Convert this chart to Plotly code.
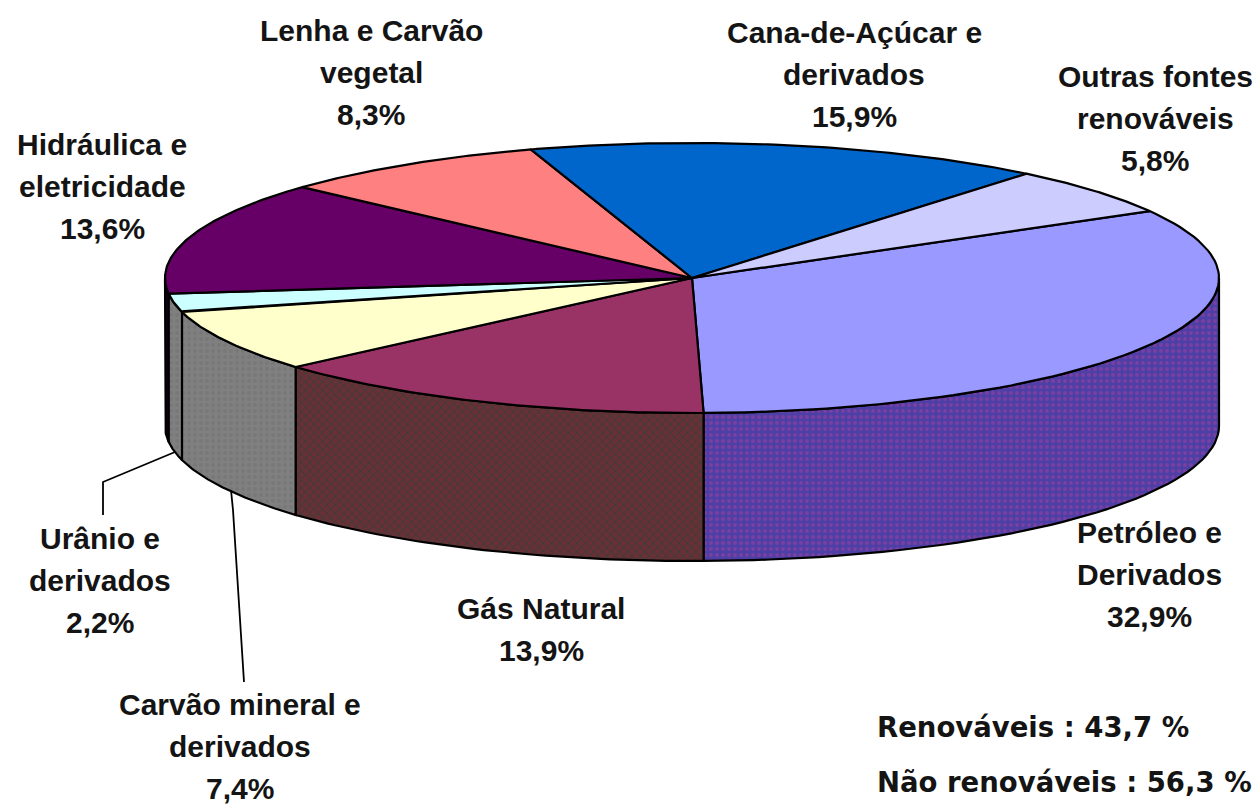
import numpy as np
import plotly.graph_objects as go

# --- data ---
fontes = [["Petróleo e", "Derivados"], ["Gás Natural"], ["Carvão mineral e", "derivados"],
          ["Urânio e", "derivados"], ["Hidráulica e", "eletricidade"], ["Lenha e Carvão", "vegetal"],
          ["Cana-de-Açúcar e", "derivados"], ["Outras fontes", "renováveis"]]
valores = [32.9, 13.9, 7.4, 2.2, 13.6, 8.3, 15.9, 5.8]
resumo = ["Renováveis : 43,7 %", "Não renováveis : 56,3 %"]

# --- styles / layout ---
cor_topo = ["#9999FF", "#993366", "#FFFFCC", "#CCFFFF", "#660066", "#FF8080", "#0066CC", "#CCCCFF"]
cor_lado = ["#4C3FA6", "#6B3035", "#808080", "#808080", "#1A001A", "#804040", "#003366", "#666680"]
cor_padrao = ["#7A3FA0", "#433A3A", "#787878", "#787878", "#1A001A", "#804040", "#003366", "#666680"]
forma = [".", "x", ".", ".", "", "", "", ""]
CX, CY, RX, RY, DEPTH = 692, 278, 527, 135, 148
START = 29.7
pos_rotulo = [(1149, 532), (541, 608), (240, 704), (100, 538), (102, 144), (371, 30), (854, 32), (1155, 76)]
PASSO = 42
W, H = 1257, 805
FONT = "Liberation Sans"
TXT = "#141414"

fig = go.Figure()


def ell(a):
    r = np.radians(a)
    return CX + RX * np.cos(r), CY - RY * np.sin(r)


bounds = START - np.concatenate([[0], np.cumsum(valores)]) * 3.6
bounds[-1] = START - 360


def add(x, y, fill, pat=None):
    kw = {}
    if pat is not None:
        kw["fillpattern"] = pat
    fig.add_trace(go.Scatter(x=x, y=y, mode="lines", fill="toself", fillcolor=fill,
                             line=dict(color="#000000", width=2.2), hoverinfo="skip",
                             showlegend=False, **kw))


# walls (visible lower half only, far side hidden)
for i in range(len(valores)):
    a0, a1 = bounds[i], bounds[i + 1]
    lo, hi = max(a1, -180), min(a0, 0)
    if lo >= hi:
        continue
    t = np.linspace(hi, lo, 50)
    xs, ys = ell(t)
    x = np.concatenate([xs, xs[::-1], xs[:1]])
    y = np.concatenate([ys, ys[::-1] + DEPTH, ys[:1]])
    pat = None
    if forma[i]:
        pat = dict(shape=forma[i], bgcolor=cor_lado[i], fgcolor=cor_padrao[i],
                   size=6, solidity=0.35, fillmode="replace")
    add(x, y, cor_lado[i], pat)

# top face
for i in range(len(valores)):
    t = np.linspace(bounds[i], bounds[i + 1], 80)
    xs, ys = ell(t)
    add(np.concatenate([[CX], xs, [CX]]), np.concatenate([[CY], ys, [CY]]), cor_topo[i])

# leader lines
for lx, ly in [([175, 103, 103], [452, 482, 515]), ([231, 233, 244], [490, 510, 682])]:
    fig.add_trace(go.Scatter(x=lx, y=ly, mode="lines", line=dict(color="#000000", width=1.8),
                             hoverinfo="skip", showlegend=False))

# labels: one annotation per line, to keep the wide line spacing of the original
for nome, v, (px, py) in zip(fontes, valores, pos_rotulo):
    linhas = nome + [f"{v:.1f}".replace(".", ",") + "%"]
    for k, s in enumerate(linhas):
        fig.add_annotation(x=px, y=py + k * PASSO, text=s, showarrow=False, align="center",
                           font=dict(family=FONT, size=30, color=TXT, weight="bold"))

for s, py in zip(resumo, [727, 782]):
    fig.add_annotation(x=875, y=py, text=s, showarrow=False, xanchor="left",
                       font=dict(family="DejaVu Sans", size=27.5, color=TXT, weight="bold"))

fig.update_layout(width=W, height=H, margin=dict(l=0, r=0, t=0, b=0),
                  paper_bgcolor="#FFFFFF", plot_bgcolor="#FFFFFF",
                  xaxis=dict(range=[0, W], visible=False, fixedrange=True),
                  yaxis=dict(range=[H, 0], visible=False, fixedrange=True))
fig.write_html("out.html", config=dict(displayModeBar=False),
               post_script="document.body.style.margin='0';document.body.style.overflow='hidden';")
